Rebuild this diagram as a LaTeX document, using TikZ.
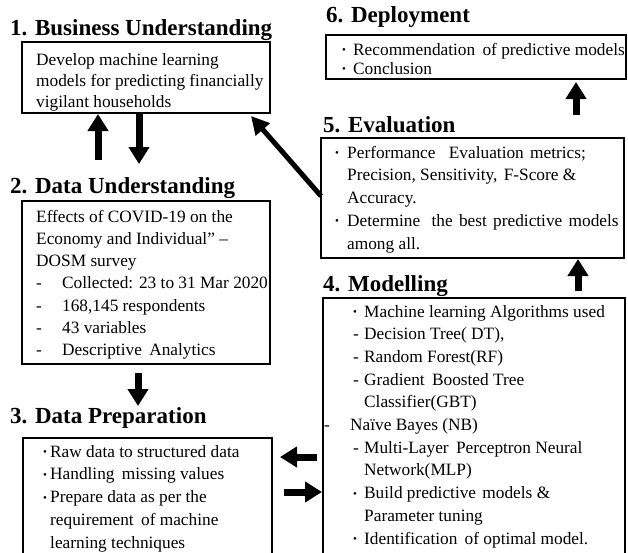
\documentclass[tikz,border=0pt]{standalone}
\usepackage{fontspec}
\setmainfont{Liberation Serif}
\usetikzlibrary{arrows.meta}
% fonts for headings and box texts
\newcommand\headfont{\fontsize{23}{27}\selectfont\bfseries}
\newcommand\bul{\raisebox{1.5pt}{\fontsize{11}{11}\selectfont\textbullet}}
% marker set in a box of given width, then the item text
\newcommand\mk[3]{\makebox[#1][l]{#2}#3}
% a widened word space, as in justified lines
\newcommand\ws[1]{\hspace{#1pt}}
\begin{document}
\begin{tikzpicture}[x=1pt,y=-1pt,
  box/.style={draw, line width=1.8pt, anchor=north west, inner sep=0pt, outer sep=0pt},
  head/.style={anchor=base west, inner sep=0pt, font=\headfont},
  body/.style={anchor=base west, inner sep=0pt, font=\fontsize{17.3}{#1}\selectfont},
  body/.default=22.5,
  fat/.style={line width=7pt, -{Triangle[width=20pt,length=17pt]}},
  slim/.style={line width=5pt, -{Triangle[width=18pt,length=18pt]}}]
\useasboundingbox (0,0) rectangle (628,552);
\clip (0,0) rectangle (628,552);

% 1. Business Understanding
\node[head] (t1) at (10,35) {1. Business Understanding};
\node[box, minimum width=248pt, minimum height=71pt] (b1) at (22,42) {};
\node[body=21] (x1) at (36,65) {\begin{tabular}[t]{@{}l@{}}
Develop machine learning\\
models for predicting financially\\
vigilant households\end{tabular}};

% 2. Data Understanding
\node[head] (t2) at (10,193) {2. Data Understanding};
\node[box, minimum width=248pt, minimum height=163pt] (b2) at (22,201) {};
\node[body=22.3] (x2) at (36,222) {\begin{tabular}[t]{@{}l@{}}
Effects of COVID-19 on the\\
Economy and Individual” –\\
DOSM survey\\
\mk{26pt}{-}{Collected: 23 to 31 Mar 2020}\\
\mk{26pt}{-}{168,145 respondents}\\
\mk{26pt}{-}{43 variables}\\
\mk{26pt}{-}{Descriptive\ws{3} Analytics}\end{tabular}};

% 3. Data Preparation
\node[head] (t3) at (10,423) {3. Data Preparation};
\node[box, minimum width=249pt, minimum height=130pt] (b3) at (23,438) {};
\node[body=22.75] (x3) at (43,457) {\begin{tabular}[t]{@{}l@{}}
\mk{7pt}{\bul}{Raw data to structured data}\\
\mk{7pt}{\bul}{Handling\ws{3} missing values}\\
\mk{7pt}{\bul}{Prepare data as per the}\\
\hspace{7pt}requirement\ws{3} of machine\\
\hspace{7pt}learning techniques\end{tabular}};

% 4. Modelling
\node[head] (t4) at (323,291) {4. Modelling};
\node[box, minimum width=302pt, minimum height=270pt] (b4) at (323,298) {};
\node[body=22.7] (x4) at (353,317) {\begin{tabular}[t]{@{}l@{}}
\mk{11pt}{\bul}{Machine learning Algorithms used}\\
\mk{11pt}{-}{Decision Tree( DT),}\\
\mk{11pt}{-}{Random Forest(RF)}\\
\mk{11pt}{-}{Gradient\ws{3} Boosted Tree}\\
\hspace{11pt}Classifier(GBT)\\
\hspace{-29pt}\mk{26pt}{-}{Naïve Bayes (NB)}\\
\mk{11pt}{-}{Multi-Layer\ws{3} Perceptron Neural}\\
\hspace{11pt}Network(MLP)\\
\mk{11pt}{\bul}{Build predictive\ws{2} models \&}\\
\hspace{11pt}Parameter tuning\\
\mk{11pt}{\bul}{Identification\ws{3} of optimal model.}\end{tabular}};

% 5. Evaluation
\node[head] (t5) at (323,132) {5. Evaluation};
\node[box, minimum width=303pt, minimum height=120pt] (b5) at (321,138) {};
\node[body=22.75] (x5) at (335,158) {\begin{tabular}[t]{@{}l@{}}
\mk{12pt}{\bul}{Performance\ws{9} Evaluation\ws{2} metrics;}\\
\hspace{12pt}Precision, Sensitivity,\ws{2} F-Score \&\\
\hspace{12pt}Accuracy.\\
\mk{12pt}{\bul}{Determine\ws{7} the\ws{2} best\ws{2} predictive\ws{2} models}\\
\hspace{12pt}among all.\end{tabular}};

% 6. Deployment
\node[head] (t6) at (326,22) {6. Deployment};
\node[box, minimum width=300pt, minimum height=44pt] (b6) at (326,35) {};
\node[body=19] (x6) at (342,55) {\begin{tabular}[t]{@{}l@{}}
\mk{11pt}{\bul}{Recommendation\ws{3} of predictive models}\\
\mk{11pt}{\bul}{Conclusion}\end{tabular}};

% flow arrows
\draw[fat] ([xshift=76pt,yshift=-47pt]b1.south west) -- ([xshift=76pt,yshift=-1pt]b1.south west);
\draw[fat] ([xshift=117pt,yshift=-1pt]b1.south west) -- ([xshift=117pt,yshift=-51pt]b1.south west);
\draw[fat] ([xshift=116pt,yshift=-9pt]b2.south west) -- ([xshift=116pt,yshift=-42pt]b2.south west);
\draw[fat] ([xshift=-6pt,yshift=-159pt]b4.north west) -- ([xshift=8pt,yshift=-19pt]b3.north east);
\draw[fat] ([xshift=12pt,yshift=-54pt]b3.north east) -- ([xshift=-1pt,yshift=-194pt]b4.north west);
\draw[fat] ([xshift=257pt,yshift=-33pt]b5.south west) -- ([xshift=257pt,yshift=-1pt]b5.south west);
\draw[fat] ([xshift=250pt,yshift=-36pt]b6.south west) -- ([xshift=250pt,yshift=-3pt]b6.south west);
\draw[slim] ([yshift=-58pt]b5.north west) -- ([xshift=-19pt,yshift=-3pt]b1.south east);
\end{tikzpicture}
\end{document}
